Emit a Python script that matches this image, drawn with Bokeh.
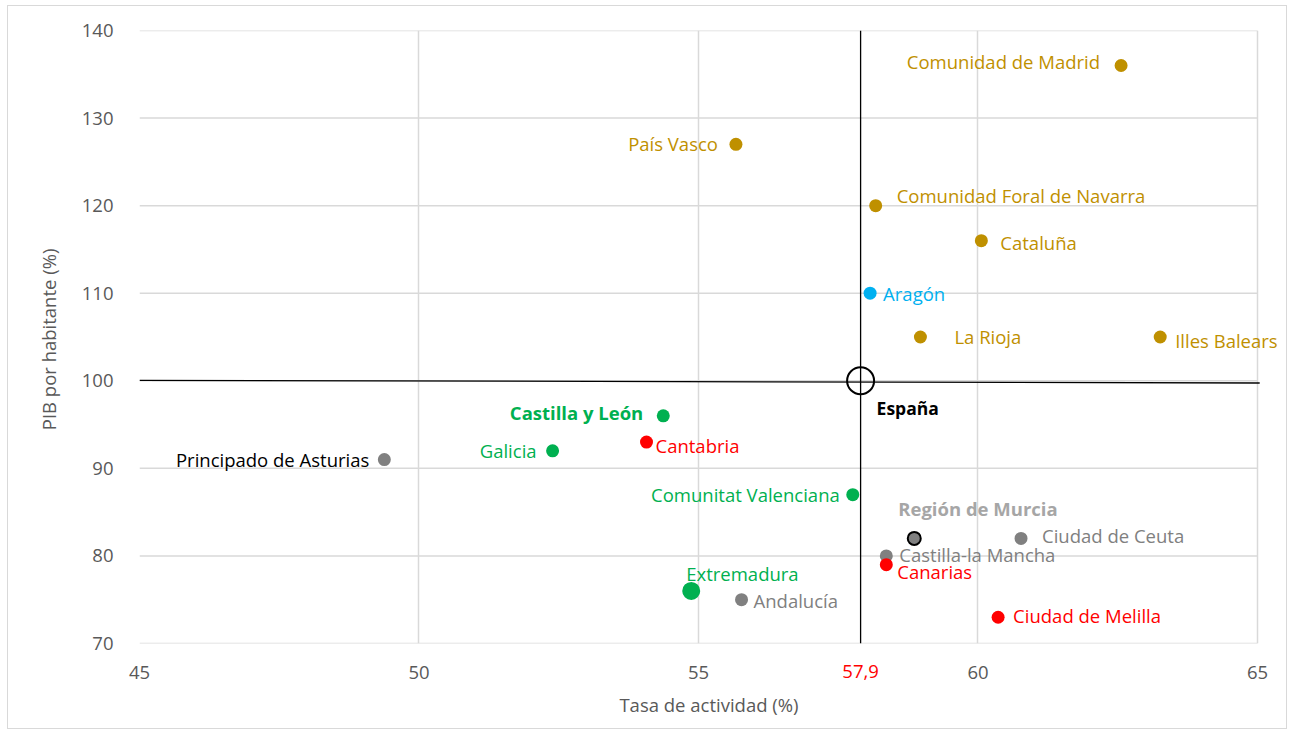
from bokeh.plotting import figure
from bokeh.models import ColumnDataSource, LabelSet, Label, Range1d, FixedTicker, LinearAxis
from bokeh.core.properties import value
from bokeh.embed import file_html
from bokeh.resources import INLINE

# ---- data ----
regions = ["Comunidad de Madrid", "País Vasco", "Comunidad Foral de Navarra", "Cataluña",
           "Aragón", "La Rioja", "Illes Balears", "Castilla y León", "Cantabria", "Galicia",
           "Principado de Asturias", "Comunitat Valenciana", "Región de Murcia", "Ciudad de Ceuta",
           "Castilla-la Mancha", "Canarias", "Extremadura", "Andalucía", "Ciudad de Melilla"]
tasa_actividad = [62.56, 55.67, 58.17, 60.06, 58.07, 58.97, 63.26, 54.37, 54.07, 52.39,
                  49.38, 57.76, 58.86, 60.77, 58.36, 58.36, 54.87, 55.77, 60.36]
pib_habitante = [136, 127, 120, 116, 110, 105, 105, 96, 93, 92,
                 91, 87, 82, 82, 80, 79, 76, 75, 73]
espana_name = "España"
espana_tasa = 57.9
espana_pib = 100
espana_tick_label = "57,9"
x_ticks = [45, 50, 55, 60, 65]
y_ticks = [70, 80, 90, 100, 110, 120, 130, 140]
hline_x = [45, 65.04]
hline_y = [100.05, 99.75]

# ---- styles ----
GOLD, GREEN, RED, BLUE, GRAY = "#BF9000", "#00B050", "#FF0000", "#00B0F0", "#808080"
dot_colors = [GOLD, GOLD, GOLD, GOLD, BLUE, GOLD, GOLD, GREEN, RED, GREEN,
              GRAY, GREEN, GRAY, GRAY, GRAY, RED, GREEN, GRAY, RED]
dot_sizes = [13, 13, 13, 13, 13, 13, 13, 13, 13, 13, 13, 13, 13, 13, 13, 13, 18, 13, 13]
dot_lines = [None] * 19
dot_lines[12] = "#000000"
label_colors = [GOLD, GOLD, GOLD, GOLD, BLUE, GOLD, GOLD, GREEN, RED, GREEN,
                "#000000", GREEN, "#A6A6A6", GRAY, GRAY, RED, GREEN, GRAY, RED]
label_styles = ["normal"] * 19
label_styles[7] = "bold"
label_styles[12] = "bold"
label_align = ["right", "right", "left", "left", "left", "left", "left", "right", "left", "right",
               "right", "right", "left", "left", "left", "left", "left", "left", "left"]
label_dx = [-21, -18, 21, 19, 13, 34, 15, -20, 9, -16, -15, -13, -16, 21, 13, 11, -5, 12, 15]
label_dy = [4, 1, 10, -2, 0, 1, -3, 3, -3, 0, 0, 0, 30, 3, 1, -7, 17, -1, 2]

FONT = "Open Sans"
GRID = "#D9D9D9"
TICK = "#595959"
FS = "18.5px"

p = figure(width=1280, height=724, output_backend="svg", toolbar_location=None,
           x_range=Range1d(45, 65.376), y_range=Range1d(70, 140),
           x_axis_location=None,
           min_border_left=131, min_border_right=10, min_border_top=24, min_border_bottom=87)
p.styles = {"border": "1px solid #D9D9D9", "margin-left": "7px", "margin-top": "5px"}
p.background_fill_color = "white"
p.border_fill_color = "white"
p.outline_line_color = None

# x axes: red 57,9 tick first (closest to frame), main axis stacked below but pulled up
ax_red = LinearAxis(ticker=FixedTicker(ticks=[espana_tasa]),
                    major_label_overrides={espana_tasa: espana_tick_label})
ax_main = LinearAxis(ticker=FixedTicker(ticks=x_ticks), axis_label="Tasa de actividad (%)")
p.add_layout(ax_red, "below")
p.add_layout(ax_main, "below")

for ax in (ax_red, ax_main, p.yaxis[0]):
    ax.axis_line_color = None
    ax.major_tick_line_color = None
    ax.minor_tick_line_color = None
    ax.major_label_text_font = FONT
    ax.major_label_text_font_size = FS
    ax.major_label_text_color = TICK
    ax.axis_label_text_font = FONT
    ax.axis_label_text_font_size = FS
    ax.axis_label_text_font_style = "normal"
    ax.axis_label_text_color = TICK
ax_red.major_label_text_color = "#FF0000"
ax_red.major_label_standoff = 15
ax_main.major_label_standoff = -21
ax_main.axis_label_standoff = 10

p.yaxis.ticker = FixedTicker(ticks=y_ticks)
p.yaxis.axis_label = "PIB  por habitante (%)"
p.yaxis.major_label_standoff = 20
p.yaxis.axis_label_standoff = 18

p.xgrid.ticker = FixedTicker(ticks=x_ticks)
p.xgrid.grid_line_color = GRID
p.xgrid.grid_line_width = 1.5
p.ygrid.grid_line_color = None

# horizontal grid lines limited to the x tick span
n = len(y_ticks)
p.segment(x0=[x_ticks[0]] * n, x1=[x_ticks[-1]] * n, y0=y_ticks, y1=y_ticks,
          line_color=GRID, line_width=1.5)

# reference lines
p.line(x=[espana_tasa, espana_tasa], y=[y_ticks[0], y_ticks[-1]], line_color="black", line_width=1.3)
p.line(x=hline_x, y=hline_y, line_color="black", line_width=1.3)

src = ColumnDataSource(dict(x=tasa_actividad, y=pib_habitante, name=regions, color=dot_colors,
                            size=dot_sizes,
                            lc=[c if c else col for c, col in zip(dot_lines, dot_colors)],
                            lw=[2 if c else 0 for c in dot_lines],
                            tcolor=label_colors, tstyle=label_styles, talign=label_align,
                            dx=label_dx, dy=label_dy))
p.scatter("x", "y", source=src, size="size", fill_color="color", line_color="lc", line_width="lw")

# España
p.scatter([espana_tasa], [espana_pib], size=27, fill_color=None, line_color="black", line_width=2)

labels = LabelSet(x="x", y="y", text="name", source=src, x_offset="dx", y_offset="dy",
                  text_color="tcolor", text_font_style="tstyle", text_align="talign",
                  text_baseline="middle", text_font=value(FONT), text_font_size=value(FS))
p.add_layout(labels)

p.add_layout(Label(x=espana_tasa, y=espana_pib, text=espana_name, x_offset=16, y_offset=-27,
                   text_font=FONT, text_font_size="17.5px", text_font_style="bold",
                   text_color="black", text_baseline="middle", text_align="left"))

open("out.html", "w").write(file_html(p, INLINE))
